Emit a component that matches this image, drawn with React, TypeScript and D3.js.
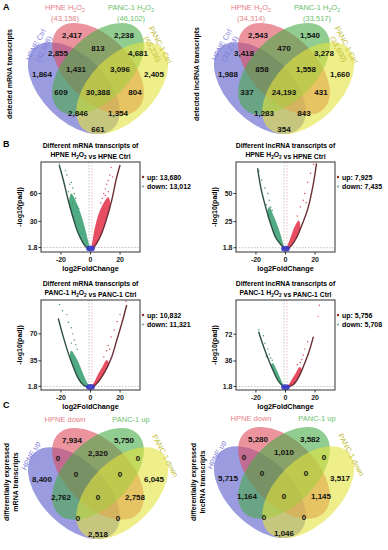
import React from 'react'
import * as d3 from 'd3'

const FONT = "'Liberation Sans', Arial, sans-serif"

// ---------- Venn data (region order: A, B, C, D, AB, BC, CD, ABC, BCD, AC, ABCD, BD, ACD, ABD, AD) ----------
const mrnaDetected = ['1,864', '2,417', '2,238', '2,405', '2,855', '813', '4,681', '1,431', '3,096', '609', '30,388', '804', '2,846', '1,354', '661']
const lncDetected = ['1,988', '2,543', '1,540', '1,660', '3,418', '470', '3,278', '858', '1,558', '337', '24,193', '431', '1,283', '843', '354']
const mrnaDiff = ['8,400', '7,934', '5,750', '6,045', '0', '2,320', '0', '0', '0', '2,762', '0', '2,758', '0', '0', '2,518']
const lncDiff = ['5,715', '5,280', '3,582', '3,517', '0', '1,010', '0', '0', '0', '1,164', '0', '1,145', '0', '0', '1,046']

const mrnaSetSizes = ['(42,668)', '(43,158)', '(46,102)', '(45,236)']
const lncSetSizes = ['(33,274)', '(34,314)', '(33,517)', '(33,600)']
const diffSets = ['HPNE up', 'HPNE down', 'PANC-1 up', 'PANC-1 down']

// ---------- volcano data ----------
const volcanoKinds = ['mRNA', 'lncRNA', 'mRNA', 'lncRNA']
const volcanoCells = ['HPNE', 'HPNE', 'PANC-1', 'PANC-1']
const upCounts = ['13,680', '7,925', '10,832', '5,756']
const downCounts = ['13,012', '7,435', '11,321', '5,708']
const yDomains = [[-3, 94], [-2, 78], [-3, 114], [-3, 118]]
const yTickSets = [[1.8, 30, 60], [1.8, 25, 50], [1.8, 35, 70], [1.8, 36, 72]]
const xTicks = [-20, 0, 20]

const leftArms = [
  [[-21.2, 90.7], [-18.4, 74.6], [-15.1, 53], [-11.7, 33.3], [-8.3, 17.1], [-4.9, 6.4], [-2.1, 1], [-0.3, 0]],
  [[-18.9, 72.6], [-16.6, 54.6], [-13.2, 36.8], [-9.8, 22], [-6.4, 10.2], [-2.5, 3.6], [-0.5, 0.5]],
  [[-21.8, 90], [-18.4, 66], [-15, 44.6], [-11.7, 27.3], [-8.3, 12.2], [-4.9, 3.5], [-1.5, 0.5]],
  [[-18.2, 75.4], [-14.8, 55.2], [-11.4, 37.4], [-8, 21.6], [-4.6, 8.2], [-1.2, 1.5], [0, 0.5]],
]
const rightArms = [
  [[0, 0], [1.5, 1], [4.2, 6.4], [7.6, 17.1], [11, 33.3], [14.4, 53], [17.3, 74.6], [20, 90.7]],
  [[0.5, 0.5], [3.9, 3.6], [7.3, 10.2], [11.1, 22], [15.2, 36.8], [18.7, 57.6], [21, 76.8]],
  [[1.5, 0.5], [5.3, 7.8], [9.8, 20.8], [14.4, 40.3], [17.8, 62], [21.2, 83.7], [24.5, 107.5]],
  [[0, 0.5], [2.3, 1.5], [5.7, 5.1], [9.1, 15], [12.5, 30.6], [15.9, 48.5], [18.9, 68.7]],
]
const downClouds = [
  [[-0.8, 0.3], [-2.1, 1], [-4.9, 6.4], [-8.3, 17.1], [-11.7, 33.3], [-14.5, 50], [-13, 60], [-10, 52], [-7, 40], [-5, 30], [-3, 18], [-1.5, 8], [-0.8, 3]],
  [[-0.8, 0.3], [-2.5, 3.6], [-6.4, 10.2], [-9.8, 22], [-12.5, 32], [-11, 38], [-8, 30], [-5, 20], [-3, 12], [-1.5, 5], [-0.8, 2]],
  [[-0.8, 0.3], [-1.5, 0.5], [-4.9, 3.5], [-8.3, 12.2], [-11.7, 27.3], [-14, 40], [-13, 48], [-10, 40], [-7, 28], [-5, 18], [-3, 9], [-1.5, 4], [-0.8, 1.5]],
  [[-0.8, 0.3], [-1.2, 1.5], [-4.6, 8.2], [-8, 21.6], [-10, 30], [-8.5, 33], [-6, 24], [-4, 15], [-2, 6], [-0.8, 2]],
]
const upClouds = [
  [[0.8, 0.3], [1.5, 1], [4.2, 6.4], [7.6, 17.1], [11, 33.3], [13.5, 47], [12, 56], [9, 50], [6, 40], [4, 30], [2.5, 20], [1.5, 10], [0.8, 3]],
  [[0.8, 0.3], [3.9, 3.6], [7.3, 10.2], [10, 19], [9, 26], [6, 20], [4, 13], [2, 6], [0.8, 2]],
  [[0.8, 0.3], [1.5, 0.5], [5.3, 7.8], [9.8, 20.8], [12.5, 31], [11, 36], [8, 27], [5, 17], [3, 9], [1.5, 4], [0.8, 1.5]],
  [[0.8, 0.3], [2.3, 1.5], [5.7, 5.1], [9.1, 15], [11, 25], [9.5, 28], [7, 20], [4.5, 12], [2.5, 5], [0.8, 2]],
]
const downSparse = [
  [[-21, 92], [-17, 85], [-16, 80], [-13, 72], [-12, 66], [-11, 60], [-10, 55], [-12, 50], [-9, 46], [-15, 62], [-14, 70], [-8, 44]],
  [[-18, 70], [-16, 62], [-14, 55], [-12, 50], [-11, 44], [-13, 40], [-10, 38], [-9, 35]],
  [[-21, 108], [-19, 100], [-16, 95], [-15, 85], [-13, 78], [-12, 70], [-11, 62], [-10, 56], [-13, 58], [-9, 50]],
  [[-18, 78], [-15, 70], [-14, 60], [-12, 52], [-11, 45], [-10, 40], [-13, 42], [-9, 37]],
]
const upSparse = [
  [[14, 88], [13, 80], [12, 74], [11, 70], [10, 65], [9, 60], [8, 55], [12, 62], [7, 50], [10, 58], [15, 78]],
  [[19, 76], [17, 68], [15, 60], [13, 50], [12, 44], [10, 38], [14, 42], [8, 30]],
  [[24, 112], [20, 95], [18, 86], [16, 75], [14, 66], [12, 55], [11, 48], [13, 50], [9, 40]],
  [[23, 111], [22, 96], [15, 62], [13, 52], [12, 44], [11, 38], [10, 34], [8, 31]],
]

// ---------- layout ----------
const vennColors = ['#5858cc', '#de4c5e', '#48ac48', '#e2e23c']
const labelColors = ['#8080dc', '#e67f88', '#6cc06c', '#c4c038']
const regionOffsets = [
  [-56, -18], [-26, -57], [26, -57], [56, -18],
  [-40, -39], [0, -44], [40, -39],
  [-22, -23], [22, -23],
  [-37, 0], [0, 0], [37, 0],
  [-20, 21], [20, 21], [0, 37],
]
const ellipses = [
  { u: 0.35, v: 0.55, rot: 45 },
  { u: 0.5, v: 0.43, rot: 45 },
  { u: 0.5, v: 0.43, rot: -45 },
  { u: 0.65, v: 0.55, rot: -45 },
]
const boxes = [[41, 162], [236, 162], [41, 300], [236, 300]]
const BW = 99
const BH = 90

const Sub2 = () => (
  <>
    <tspan dy={2} fontSize="0.7em">2</tspan>
    <tspan dy={-2}>O</tspan>
    <tspan dy={2} fontSize="0.7em">2</tspan>
    <tspan dy={-2}></tspan>
  </>
)

function Venn({ cx, cy, values, sizes, names }: any) {
  const S = 161
  const sx = d3.scaleLinear().domain([0, 1]).range([cx - 0.5 * S, cx + 0.5 * S])
  const sy = d3.scaleLinear().domain([0, 1]).range([cy - 0.574 * S, cy + 0.426 * S])
  const rx = 0.35 * S
  const ry = 0.2 * S
  const catLabel = (i: number) => {
    if (names) return <tspan>{names[i]}</tspan>
    const base = i === 0 || i === 1 ? 'HPNE' : 'PANC-1'
    return i === 1 || i === 2 ? <tspan>{base} H<Sub2 /></tspan> : <tspan>{base} Ctrl</tspan>
  }
  const lines = (i: number) => (
    <>
      <tspan x={0} dy={0}>{catLabel(i)}</tspan>
      {sizes && <tspan x={0} dy={9}>{sizes[i]}</tspan>}
    </>
  )
  const topY = cy - (sizes ? 82 : 75)
  const sideY = cy - (sizes ? 46 : 40)
  return (
    <g>
      {ellipses.map((e, i) => (
        <ellipse key={i} cx={0} cy={0} rx={rx} ry={ry}
          transform={`translate(${sx(e.u)},${sy(e.v)}) rotate(${e.rot})`}
          fill={vennColors[i]} fillOpacity={0.6} stroke="none" />
      ))}
      {values.map((v: string, i: number) => (
        <text key={i} x={cx + regionOffsets[i][0]} y={cy + regionOffsets[i][1]} textAnchor="middle"
          dominantBaseline="central" fontSize={8} fontWeight="bold" fill="#111">{v}</text>
      ))}
      <g fontSize={7.5} textAnchor="middle" fontFamily={FONT}>
        <text transform={`translate(${cx - 33},${topY})`} fill={labelColors[1]}>{lines(1)}</text>
        <text transform={`translate(${cx + 33},${topY})`} fill={labelColors[2]}>{lines(2)}</text>
        <text transform={`translate(${cx - (sizes ? 60 : 65)},${sideY}) rotate(-62)`} fill={labelColors[0]}>{lines(0)}</text>
        <text transform={`translate(${cx + (sizes ? 60 : 65)},${sideY}) rotate(62)`} fill={labelColors[3]}>{lines(3)}</text>
      </g>
    </g>
  )
}

function Volcano({ idx }: { idx: number }) {
  const [x0, y0] = boxes[idx]
  const x = d3.scaleLinear().domain([-33.5, 33.5]).range([x0, x0 + BW])
  const y = d3.scaleLinear().domain(yDomains[idx]).range([y0 + BH, y0])
  const line = d3.line<number[]>().x(d => x(d[0])).y(d => y(d[1])).curve(d3.curveCatmullRom)
  const poly = d3.line<number[]>().x(d => x(d[0])).y(d => y(d[1])).curve(d3.curveCatmullRomClosed)
  const cx = x0 + BW / 2
  const clip = `vclip${idx}`
  return (
    <g fontFamily={FONT}>
      <defs>
        <pattern id={`dots${idx}`} width={2} height={2} patternUnits="userSpaceOnUse">
          <circle cx={1} cy={1} r={0.55} fill="#fff" fillOpacity={0.35} />
        </pattern>
      </defs>
      <text x={cx} y={y0 - 14} textAnchor="middle" fontSize={6.8} fontWeight="bold">
        Different {volcanoKinds[idx]} transcripts of
      </text>
      <text x={cx} y={y0 - 5} textAnchor="middle" fontSize={6.8} fontWeight="bold">
        {volcanoCells[idx]} H<Sub2 /> vs {volcanoCells[idx]} Ctrl
      </text>
      <clipPath id={clip}><rect x={x0} y={y0} width={BW} height={BH} /></clipPath>
      <rect x={x0} y={y0} width={BW} height={BH} fill="#fff" />
      <g clipPath={`url(#${clip})`}>
        <line x1={x0} x2={x0 + BW} y1={y(1.8)} y2={y(1.8)} stroke="#999" strokeWidth={0.6} strokeDasharray="1.5,1.5" />
        <line x1={x(-1)} x2={x(-1)} y1={y0} y2={y0 + BH} stroke="#999" strokeWidth={0.6} strokeDasharray="1.5,1.5" />
        <line x1={x(1)} x2={x(1)} y1={y0} y2={y0 + BH} stroke="#d99" strokeWidth={0.6} strokeDasharray="1.5,1.5" />
        <path d={poly(downClouds[idx]) || ''} fill="#2e9a6a" fillOpacity={0.9} />
        <path d={poly(upClouds[idx]) || ''} fill="#e22a44" fillOpacity={0.9} />
        <path d={poly(downClouds[idx]) || ''} fill={`url(#dots${idx})`} />
        <path d={poly(upClouds[idx]) || ''} fill={`url(#dots${idx})`} />
        {downSparse[idx].map((p, i) => (
          <circle key={'d' + i} cx={x(p[0])} cy={y(p[1])} r={0.7} fill="#3a8a66" />
        ))}
        {upSparse[idx].map((p, i) => (
          <circle key={'u' + i} cx={x(p[0])} cy={y(p[1])} r={0.7} fill="#d2485a" />
        ))}
        <path d={line(leftArms[idx]) || ''} fill="none" stroke="#2e4f42" strokeWidth={1.4} />
        <path d={line(rightArms[idx]) || ''} fill="none" stroke="#6a2e34" strokeWidth={1.4} />
        <ellipse cx={x(0)} cy={y(0.8)} rx={x(3) - x(0)} ry={3} fill="#3636c8" fillOpacity={0.9} />
      </g>
      <rect x={x0} y={y0} width={BW} height={BH} fill="none" stroke="#333" strokeWidth={1} />
      {xTicks.map(t => (
        <g key={t}>
          <line x1={x(t)} x2={x(t)} y1={y0 + BH} y2={y0 + BH + 2.5} stroke="#333" />
          <text x={x(t)} y={y0 + BH + 10} textAnchor="middle" fontSize={7} fontWeight="bold" fill="#222">{t}</text>
        </g>
      ))}
      {yTickSets[idx].map(t => (
        <g key={t}>
          <line x1={x0 - 2.5} x2={x0} y1={y(t)} y2={y(t)} stroke="#333" />
          <text x={x0 - 3.5} y={y(t)} dy="0.35em" textAnchor="end" fontSize={7} fontWeight="bold" fill="#222">{t}</text>
        </g>
      ))}
      <text transform={`translate(${x0 - 19},${y0 + BH / 2}) rotate(-90)`} textAnchor="middle" fontSize={7} fontWeight="bold">
        -log10(padj)
      </text>
      <text x={cx} y={y0 + BH + 19} textAnchor="middle" fontSize={7.2} fontWeight="bold">log2FoldChange</text>
      <circle cx={x0 + BW + 3} cy={y0 + 15} r={1.2} fill="#8b2a2a" />
      <text x={x0 + BW + 7} y={y0 + 17.5} fontSize={7} fontWeight="bold">up: {upCounts[idx]}</text>
      <circle cx={x0 + BW + 3} cy={y0 + 24.5} r={1.2} fill="#9bb8aa" />
      <text x={x0 + BW + 7} y={y0 + 27} fontSize={7} fontWeight="bold">down: {downCounts[idx]}</text>
    </g>
  )
}

export default function App() {
  return (
    <svg width={388} height={550} style={{ position: 'absolute', left: 0, top: 0, background: '#fff' }} fontFamily={FONT}>
      <text x={3} y={10} fontSize={9} fontWeight="bold">A</text>
      <text x={3} y={147} fontSize={9} fontWeight="bold">B</text>
      <text x={3} y={408} fontSize={9} fontWeight="bold">C</text>

      <text transform="translate(12,74) rotate(-90)" textAnchor="middle" fontSize={7} fontWeight="bold">detected mRNA transcripts</text>
      <text transform="translate(199,74) rotate(-90)" textAnchor="middle" fontSize={7} fontWeight="bold">detected lncRNA transcripts</text>
      <text transform="translate(9,482) rotate(-90)" textAnchor="middle" fontSize={7} fontWeight="bold">
        <tspan x={0} dy={0}>differentially expressed</tspan>
        <tspan x={0} dy={8.5}>mRNA transcripts</tspan>
      </text>
      <text transform="translate(196,482) rotate(-90)" textAnchor="middle" fontSize={7} fontWeight="bold">
        <tspan x={0} dy={0}>differentially expressed</tspan>
        <tspan x={0} dy={8.5}>lncRNA transcripts</tspan>
      </text>

      <Venn cx={98} cy={92} values={mrnaDetected} sizes={mrnaSetSizes} />
      <Venn cx={284} cy={92} values={lncDetected} sizes={lncSetSizes} />
      <Venn cx={98} cy={497} values={mrnaDiff} names={diffSets} />
      <Venn cx={284} cy={496} values={lncDiff} names={diffSets} />

      {[0, 1, 2, 3].map(i => <Volcano key={i} idx={i} />)}
    </svg>
  )
}
